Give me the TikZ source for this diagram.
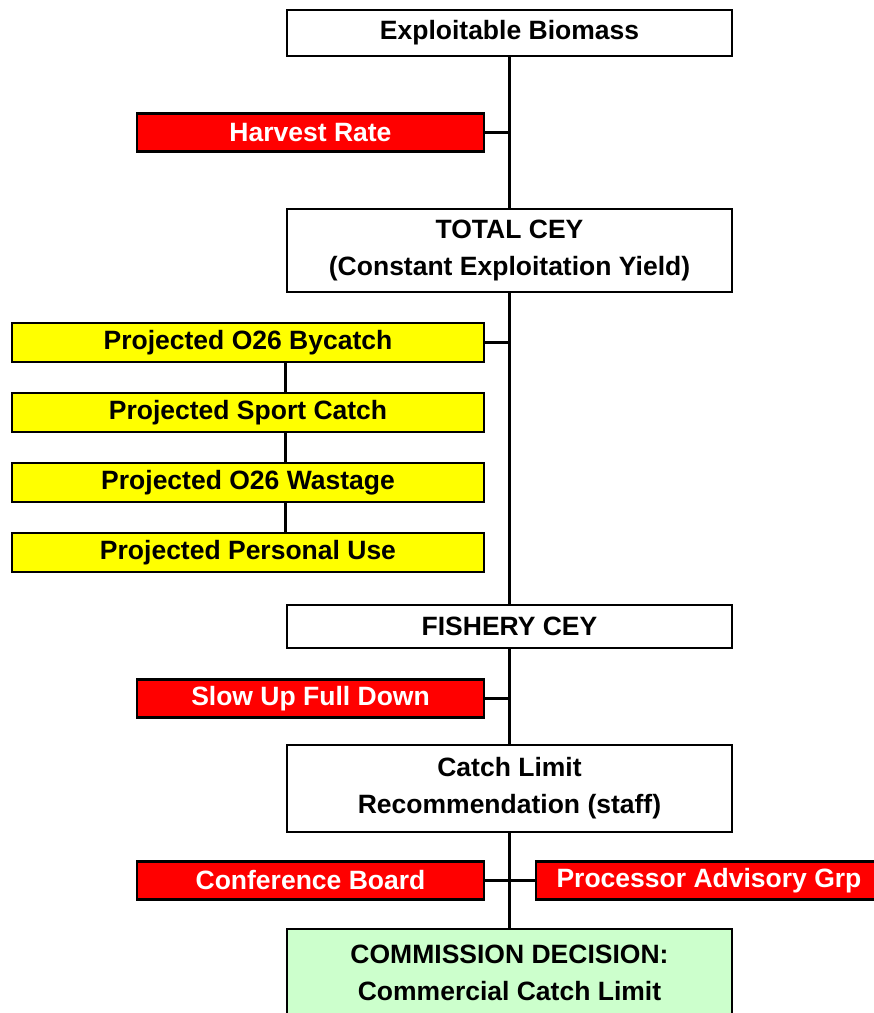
\documentclass[tikz,border=0pt]{standalone}
\usepackage{fontspec}
\setmainfont{Liberation Sans}
\definecolor{boxred}{HTML}{FF0000}
\definecolor{boxyellow}{HTML}{FFFF00}
\definecolor{boxgreen}{HTML}{CCFFCC}
\begin{document}
\begin{tikzpicture}[x=1pt,y=-1pt,
  every node/.style={font=\fontsize{26.5}{37}\selectfont\bfseries, inner sep=0pt, align=center, draw=black, line width=2.6pt},
  mainbox/.style={fill=white, text=black, minimum width=445, minimum height=#1},
  redbox/.style={fill=boxred, text=white, minimum width=347, minimum height=38},
  yelbox/.style={fill=boxyellow, text=black, minimum width=472, minimum height=39},
  link/.style={line width=2.6pt, draw=black}]
\useasboundingbox (0,0) rectangle (874,1013);
\clip (0,0) rectangle (874,1013);
\node[mainbox=46] (bio) at (509.5,33) {Exploitable Biomass};
\node[redbox] (harvest) at (310.5,132.5) {Harvest Rate};
\node[mainbox=83] (total) at (509.5,250.5) {TOTAL CEY\\(Constant Exploitation Yield)};
\node[yelbox] (y1) at (248,342.5) {Projected O26 Bycatch};
\node[yelbox] (y2) at (248,412.5) {Projected Sport Catch};
\node[yelbox] (y3) at (248,482.5) {Projected O26 Wastage};
\node[yelbox] (y4) at (248,552.5) {Projected Personal Use};
\node[mainbox=43] (fishery) at (509.5,626.5) {FISHERY CEY};
\node[redbox] (slow) at (310.5,698.5) {Slow Up Full Down};
\node[mainbox=87] (catch) at (509.5,788.5) {Catch Limit\\Recommendation (staff)};
\node[redbox] (conf) at (310.5,880.5) {Conference Board};
\node[redbox, minimum width=346] (proc) at (709,880.5) {Processor Advisory Grp};
\node[mainbox=88, fill=boxgreen] (comm) at (509.5,973) {COMMISSION DECISION:\\Commercial Catch Limit};
\draw[link] (bio.south) -- (total.north);
\draw[link] (harvest.east) -- (harvest.east -| bio.south);
\draw[link] (total.south) -- (fishery.north);
\draw[link] (y1.east) -- (y1.east -| total.south);
\draw[link] (y1.south -| total.west) -- (y2.north -| total.west);
\draw[link] (y2.south -| total.west) -- (y3.north -| total.west);
\draw[link] (y3.south -| total.west) -- (y4.north -| total.west);
\draw[link] (fishery.south) -- (catch.north);
\draw[link] (slow.east) -- (slow.east -| fishery.south);
\draw[link] (catch.south) -- (comm.north);
\draw[link] (conf.east) -- (conf.east -| catch.south);
\draw[link] (proc.west) -- (proc.west -| catch.south);
\end{tikzpicture}
\end{document}
